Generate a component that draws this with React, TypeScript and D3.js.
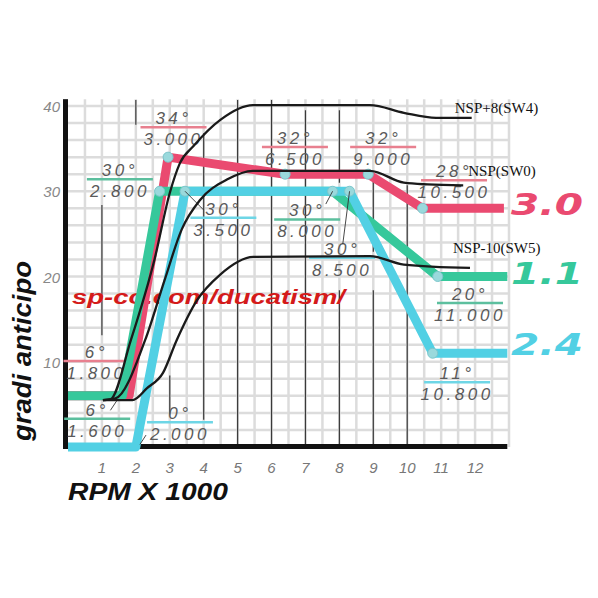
import React from "react";
import * as d3 from "d3";

// ---- data ----
const xTicks = [1, 2, 3, 4, 5, 6, 7, 8, 9, 10, 11, 12];
const yTicks = [10, 20, 30, 40];

// coloured advance curves (rpm x1000, degrees)
const redX = [0, 1.8, 2.95, 6.4, 8.85, 10.45, 12.85];
const redY = [6, 6, 34, 32, 32, 28, 28];
const greenX = [0, 1.6, 2.7, 7.8, 10.9, 12.95];
const greenY = [6, 6, 30, 30, 20, 20];
const blueX = [0, 2.0, 3.45, 8.3, 10.75, 12.95];
const blueY = [0, 0, 30, 30, 11, 11];

// black NSP curves
const sw4X = [1.03, 1.25, 1.85, 2.55, 3.0, 3.3, 3.7, 4.5, 5.45, 8.9, 9.9, 10.85, 11.9];
const sw4Y = [5.5, 5.6, 12.5, 22, 29.8, 33.3, 35.3, 38.4, 40.1, 40.1, 39.2, 38.6, 38.6];
const sw0X = [1.03, 1.4, 2.27, 2.85, 3.35, 3.9, 4.7, 5.45, 8.9, 9.9, 10.6, 11.65];
const sw0Y = [5.5, 5.7, 12.5, 19.6, 25.5, 29, 31.4, 32.4, 32.4, 31.0, 30.8, 30.7];
const sw5X = [1.03, 1.9, 2.33, 2.8, 3.2, 3.8, 4.48, 5.46, 8.9, 9.9, 11.85];
const sw5Y = [5.5, 5.5, 6.9, 8.7, 12.5, 17.2, 20.2, 22.3, 22.4, 21.4, 21.0];

// marker corners
const markerX = [2.95, 2.7, 3.45, 6.4, 7.8, 8.3, 8.85, 10.45, 10.9, 10.75];
const markerY = [34, 30, 30, 32, 30, 30, 32, 28, 20, 11];

// annotations: degree, rpm label, series, underline centre (data units)
const annDeg = ["34°", "30°", "30°", "32°", "30°", "32°", "28°", "30°", "20°", "11°", "6°", "6°", "0°"];
const annRpm = ["3.000", "2.800", "3.500", "6.500", "8.000", "9.000", "10.500", "8.500", "11.000", "10.800", "1.800", "1.600", "2.000"];
const annSeries = ["red", "green", "blue", "red", "green", "red", "red", "blue", "green", "blue", "red", "green", "blue"];
const annX = [3.11, 1.53, 4.58, 6.69, 7.05, 9.29, 11.38, 8.08, 11.85, 11.47, 0.84, 0.86, 3.3];
const annY = [37.5, 31.4, 26.9, 35.2, 26.7, 35.2, 31.3, 22.2, 16.9, 7.6, 10.1, 3.3, 2.9];

// leader lines [x1,y1,x2,y2] in data units
const leaders = [
  [3.45, 30, 4.0, 27.8],
  [7.8, 30, 7.6, 28.5],
  [8.3, 30, 8.1, 23.8],
  [1.25, 4.3, 1.45, 5.5],
  [2.12, 0.3, 2.3, 1.4],
];

// dark vertical rulings: [x, fromDeg, toDeg]
const rulings = [
  [1, 28.4, 13.1],
  [2, 40.7, 37.8],
  [3, 8.4, 3.8],
  [4, 36.8, 3.2],
  [5, 40.7, 0],
  [6, 40.7, 0],
  [7, 39.5, 0],
  [8, 39.5, 31],
  [8, 18.4, 0],
  [9, 31.7, 22.9],
  [9, 18.4, 0],
  [10, 30.7, 0],
];

const curveLabels = ["NSP+8(SW4)", "NSP(SW0)", "NSP-10(SW5)"];
const curveLabelX = [11.4, 11.8, 11.35];
const curveLabelY = [39.2, 31.8, 22.7];

const bigLabels = ["3.0", "1.1", "2.4"];
const bigOffsets = [7, 7, 2];

const COLORS: Record<string, string> = {
  red: "#ea4a70",
  green: "#36c89b",
  blue: "#52d0e4",
};
const ULINE: Record<string, string> = {
  red: "#e8808f",
  green: "#5cbf9e",
  blue: "#6ed6e6",
};

export default function App() {
  const x = d3.scaleLinear().domain([0, 13]).range([68, 509]);
  const y = d3.scaleLinear().domain([0, 40]).range([447, 106]);

  const line = d3
    .line<[number, number]>()
    .x((d) => x(d[0]))
    .y((d) => y(d[1]));
  const smooth = d3
    .line<[number, number]>()
    .x((d) => x(d[0]))
    .y((d) => y(d[1]))
    .curve(d3.curveMonotoneX);

  const zip = (a: number[], b: number[]) => a.map((v, i) => [v, b[i]] as [number, number]);

  const gridX = d3.range(0.5, 13.01, 0.5);
  const gridY = d3.range(2, 40.01, 2);

  const annFont = "'Liberation Sans', Arial, sans-serif";

  return (
    <div style={{ position: "absolute", left: 0, top: 0 }}>
      <svg width={598} height={598} style={{ display: "block", background: "#fff" }}>
        {/* grid */}
        <g stroke="#dcdcdc" strokeWidth={2.5}>
          {gridX.map((g) => (
            <line key={"gx" + g} x1={x(g)} x2={x(g)} y1={y(40.8)} y2={y(0)} />
          ))}
          {gridY.map((g) => (
            <line key={"gy" + g} x1={x(0)} x2={x(13)} y1={y(g)} y2={y(g)} />
          ))}
        </g>
        {/* dark rulings */}
        <g stroke="#3a3a3a" strokeWidth={1.2}>
          {rulings.map((r, i) => (
            <line key={"r" + i} x1={x(r[0])} x2={x(r[0])} y1={y(r[1])} y2={y(r[2])} />
          ))}
        </g>
        {/* axes */}
        <rect x={x(0) - 5} y={y(40.8)} width={5} height={y(0) - y(40.8) + 2} fill="#111" />
        <rect x={x(0) - 2} y={y(0) - 3} width={x(12.95) - x(0) + 2} height={5} fill="#111" />

        {/* annotation underlines + text */}
        {annDeg.map((d, i) => {
          const cx = x(annX[i]);
          const cy = y(annY[i]);
          return (
            <g key={"a" + i}>
              <line x1={cx - 33} x2={cx + 33} y1={cy} y2={cy} stroke={ULINE[annSeries[i]]} strokeWidth={2.5} />
              <text
                x={cx}
                y={cy - 3}
                textAnchor="middle"
                fontFamily={annFont}
                fontStyle="italic"
                fontWeight={300}
                fontSize={17}
                letterSpacing={3.5}
                fill="#5a5a5a"
              >
                {d}
              </text>
              <text
                x={cx}
                y={cy + 18}
                textAnchor="middle"
                fontFamily={annFont}
                fontStyle="italic"
                fontWeight={300}
                fontSize={17}
                letterSpacing={3.5}
                fill="#5a5a5a"
              >
                {annRpm[i]}
              </text>
            </g>
          );
        })}

        {/* watermark */}
        <text
          x={72}
          y={304}
          fontFamily="'Liberation Sans', Arial, sans-serif"
          fontWeight="bold"
          fontStyle="italic"
          fontSize={21}
          fill="#d41a1a"
          textLength={273}
          lengthAdjust="spacingAndGlyphs"
        >
          sp-co.com/ducatism/
        </text>

        {/* coloured curves */}
        <path d={line(zip(redX, redY)) || ""} fill="none" stroke={COLORS.red} strokeWidth={9} strokeLinejoin="round" />
        <path d={line(zip(greenX, greenY)) || ""} fill="none" stroke={COLORS.green} strokeWidth={9} strokeLinejoin="round" />
        <path d={line(zip(blueX, blueY)) || ""} fill="none" stroke={COLORS.blue} strokeWidth={9} strokeLinejoin="round" />

        {/* markers */}
        {markerX.map((m, i) => (
          <circle key={"m" + i} cx={x(m)} cy={y(markerY[i])} r={5} fill="#9ad9dc" stroke="#7cc7cc" strokeWidth={1} />
        ))}

        {/* leaders */}
        <g stroke="#333" strokeWidth={0.9}>
          {leaders.map((l, i) => (
            <line key={"l" + i} x1={x(l[0])} y1={y(l[1])} x2={x(l[2])} y2={y(l[3])} />
          ))}
        </g>

        {/* black NSP curves */}
        <g fill="none" stroke="#1a1a1a" strokeWidth={2.3}>
          <path d={smooth(zip(sw4X, sw4Y)) || ""} />
          <path d={smooth(zip(sw0X, sw0Y)) || ""} />
          <path d={smooth(zip(sw5X, sw5Y)) || ""} />
        </g>
        {curveLabels.map((c, i) => (
          <text
            key={c}
            x={x(curveLabelX[i])}
            y={y(curveLabelY[i])}
            fontFamily="'Liberation Serif', 'Times New Roman', serif"
            fontSize={15}
            fill="#111"
          >
            {c}
          </text>
        ))}

        {/* big labels */}
        {bigLabels.map((b, i) => {
          const col = [COLORS.red, COLORS.green, COLORS.blue][i];
          const yy = [redY[redY.length - 1], greenY[greenY.length - 1], blueY[blueY.length - 1]][i];
          return (
            <text
              key={b}
              x={511}
              y={y(yy) + bigOffsets[i]}
              fontFamily="'DejaVu Sans', sans-serif"
              fontWeight="bold"
              fontStyle="italic"
              fontSize={30}
              fill={col}
              textLength={72}
              lengthAdjust="spacingAndGlyphs"
            >
              {b}
            </text>
          );
        })}

        {/* tick labels */}
        {yTicks.map((t) => (
          <text
            key={"yt" + t}
            x={60}
            y={y(t) + 6}
            textAnchor="end"
            fontFamily="'Liberation Sans', Arial, sans-serif"
            fontStyle="italic"
            fontSize={15}
            fill="#888"
          >
            {t}
          </text>
        ))}
        {xTicks.map((t) => (
          <text
            key={"xt" + t}
            x={x(t)}
            y={473}
            textAnchor="middle"
            fontFamily="'Liberation Sans', Arial, sans-serif"
            fontStyle="italic"
            fontSize={15}
            fill="#777"
          >
            {t}
          </text>
        ))}

        {/* axis titles */}
        <text
          x={68}
          y={500}
          fontFamily="'Liberation Sans', Arial, sans-serif"
          fontWeight={900}
          fontStyle="italic"
          fontSize={24}
          fill="#111"
          textLength={160}
          lengthAdjust="spacingAndGlyphs"
        >
          RPM X 1000
        </text>
        <text
          transform="translate(31,351) rotate(-90)"
          textAnchor="middle"
          fontFamily="'Liberation Sans', Arial, sans-serif"
          fontWeight={900}
          fontStyle="italic"
          fontSize={25}
          fill="#111"
          textLength={180}
          lengthAdjust="spacingAndGlyphs"
        >
          gradi anticipo
        </text>
      </svg>
    </div>
  );
}
